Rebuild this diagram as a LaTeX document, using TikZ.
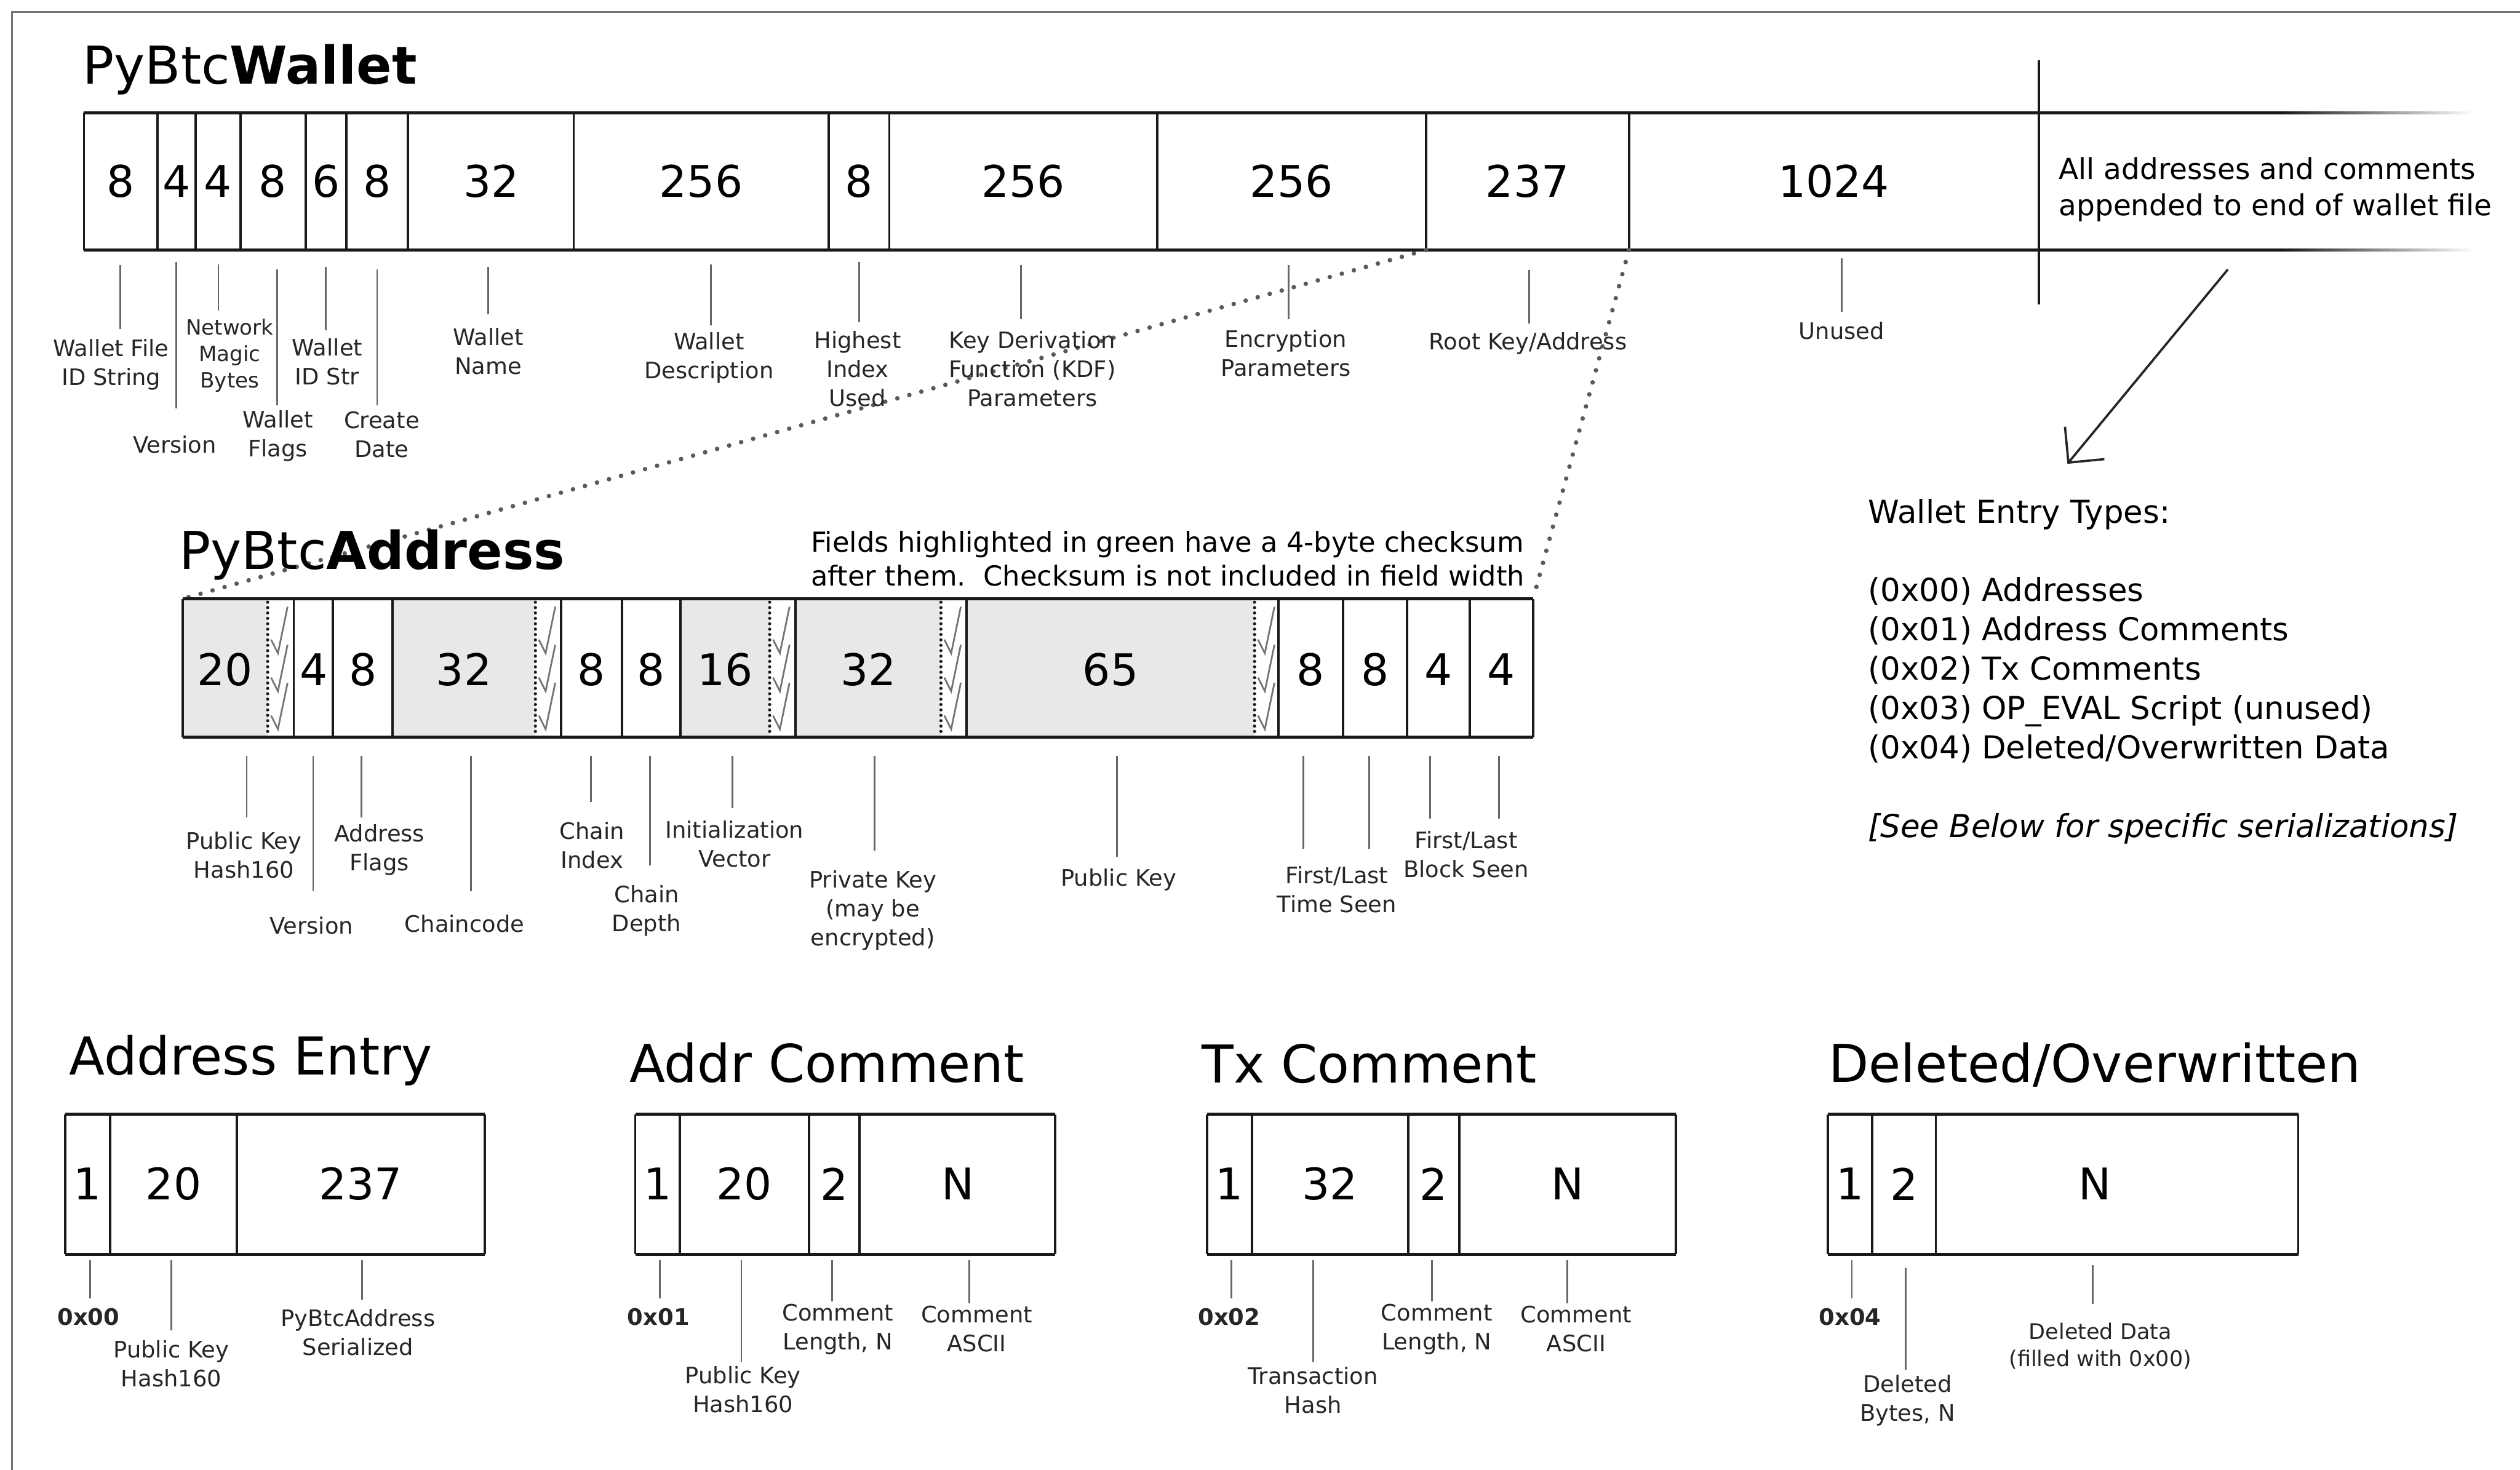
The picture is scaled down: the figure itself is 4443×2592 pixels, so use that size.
\documentclass[tikz,border=0pt]{standalone}
\usepackage{fontspec}
\setmainfont{DejaVu Sans}
\usetikzlibrary{arrows.meta}
\newcommand\mytick[3]{\draw[tick] (#1,#2) -- (#1,#3);}
\newcommand\mychks[1]{\foreach \k in {0,1,2}{\draw[chk] ({#1+6},{1128+\k*67}) -- ({#1+18},{1152+\k*67}) -- ({#1+35},{1070+\k*67});}}
\begin{document}
\begin{tikzpicture}[x=0.1pt,y=-0.1pt,
 lbl/.style={font=\fontsize{4}{5.1}\selectfont, align=center, inner sep=0pt, text=black!85},
 blbl/.style={font=\fontsize{4}{5.1}\selectfont\bfseries, inner sep=0pt, text=black!85},
 num/.style={font=\fontsize{7.7}{9}\selectfont, inner sep=0pt},
 ttl/.style={font=\fontsize{9.2}{11}\selectfont, anchor=base west, inner sep=0pt},
 hbar/.style={line width=0.6pt, black!90},
 vbar/.style={line width=0.42pt, black!90},
 tick/.style={line width=0.3pt, black!60},
 dots/.style={line width=0.8pt, black!65, dash pattern=on 0pt off 2.2pt, line cap=round},
 csdots/.style={line width=0.55pt, black!90, dash pattern=on 0pt off 0.95pt, line cap=round},
 chk/.style={line width=0.3pt, black!55, line join=miter},
 txt/.style={inner sep=0pt, align=left, anchor=west}]
\useasboundingbox (0,0) rectangle (4443,2592);
\fill[white] (0,0) rectangle (4443,2592);
% frame
\draw[line width=0.4pt, black!55] (21,2592) -- (21,21) -- (4443,21);

% ---------- PyBtcWallet ----------
\node[ttl] (wtitle) at (144,148) {PyBtc\textbf{Wallet}};
\draw[hbar] (148,199) -- (4030,199);
\draw[hbar] (148,441) -- (4030,441);
\foreach \i in {0,...,31}{\pgfmathsetmacro\op{1-(\i+1)/33}
  \draw[hbar, draw opacity=\op] ({4030+\i*10.2},199) -- ({4030+(\i+1)*10.2},199);
  \draw[hbar, draw opacity=\op] ({4030+\i*10.2},441) -- ({4030+(\i+1)*10.2},441);}
\foreach \x in {148,277.5,344.5,424,539,610.5,719.6,1011.5,1461,1568,2040,2514,2872}
  {\draw[vbar] (\x,199) -- (\x,441);}
\draw[vbar] (3595,106) -- (3595,537);
\foreach \x/\t [count=\n] in {213/8,311/4,384/4,481/8,575/6,665/8,866/32,1236/256,1514/8,1804/256,2277/256,2693/237,3233/1024}
  {\node[num] (wn\n) at (\x,320) {\t};}
\node[txt, font=\fontsize{5.1}{6.4}\selectfont] (wall) at (3628,334) {All addresses and comments\\appended to end of wallet file};

% dotted connectors to PyBtcAddress
\coordinate (w237a) at (2514,441);
\coordinate (w237b) at (2872,441);
\coordinate (atl) at (322,1056);
\coordinate (atr) at (2703,1056);
\draw[dots] (w237a) -- (atl);
\draw[dots] (w237b) -- (atr);

% wallet labels
\node[lbl] (lwf) at (196,643) {Wallet File\\ID String}; \mytick{212}{468}{580}
\node[lbl] (lver) at (308,784) {Version}; \mytick{311}{462}{720}
\node[lbl, font=\fontsize{3.7}{4.7}\selectfont] (lnet) at (405,627) {Network\\Magic\\Bytes}; \mytick{385}{466}{548}
\node[lbl] (lfl) at (490,769) {Wallet\\Flags}; \mytick{489}{475}{715}
\node[lbl] (lid) at (577,638) {Wallet\\ID Str}; \mytick{574}{471}{583}
\node[lbl] (lcd) at (673,766) {Create\\Date}; \mytick{665}{475}{715}
\node[lbl] (lwn) at (861,620) {Wallet\\Name}; \mytick{861}{471}{554}
\node[lbl] (lwd) at (1250,631) {Wallet\\Description}; \mytick{1253}{466}{574}
\node[lbl] (lhi) at (1512,650) {Highest\\Index\\Used}; \mytick{1515}{462}{568}
\node[lbl] (lkdf) at (1820,650) {Key Derivation\\Function (KDF)\\Parameters}; \mytick{1800}{468}{563}
\node[lbl] (lenc) at (2267,623) {Encryption\\Parameters}; \mytick{2272}{468}{563}
\node[lbl] (lroot) at (2694,606) {Root Key/Address}; \mytick{2696}{476}{571}
\node[lbl] (lun) at (3247,583) {Unused}; \mytick{3247}{456}{550}

% arrow
\coordinate (arrA) at (3928,475);
\coordinate (arrB) at (3645,818);
\draw[line width=0.4pt, black!85, -{Straight Barb[length=4.5pt,width=9pt,line width=0.4pt]}] (arrA) -- (arrB);

% wallet entry types
\node[txt, font=\fontsize{5.57}{6.93}\selectfont] (wet) at (3292,1184) {Wallet Entry Types:\\[6.93pt]
(0x00) Addresses\\(0x01) Address Comments\\(0x02) Tx Comments\\(0x03) OP\_EVAL Script (unused)\\(0x04) Deleted/Overwritten Data\\[6.93pt]
\textit{[See Below for specific serializations]}};

% ---------- PyBtcAddress ----------
\node[ttl] (atitle) at (314,1004) {PyBtc\textbf{Address}};
\node[txt, font=\fontsize{4.86}{6}\selectfont] (afld) at (1428,985) {Fields highlighted in green have a 4-byte checksum\\after them.\ \ Checksum is not included in field width};
\foreach \a/\b in {322/472,692/944,1200/1357,1403/1659,1704/2212}
  {\fill[black!9] (\a,1056) rectangle (\b,1300);}
\mychks{472}\mychks{944}\mychks{1357}\mychks{1659}\mychks{2212}
\foreach \x in {472,944,1357,1659,2212}{\draw[csdots] (\x,1062) -- (\x,1296);}
\draw[hbar] (322,1056) -- (2703,1056);
\draw[hbar] (322,1300) -- (2703,1300);
\foreach \x in {322,518,587,692,989,1097,1200,1403,1704,2254,2368,2481,2591,2703}
  {\draw[vbar] (\x,1056) -- (\x,1300);}
\foreach \x/\t [count=\n] in {397/20,553/4,640/8,818/32,1043/8,1148/8,1278/16,1531/32,1958/65,2311/8,2424/8,2536/4,2647/4}
  {\node[num] (an\n) at (\x,1181) {\t};}

% address labels
\node[lbl] (lpkh) at (430,1508) {Public Key\\Hash160}; \mytick{435}{1333}{1442}
\node[lbl] (laver) at (549,1632) {Version}; \mytick{552}{1333}{1572}
\node[lbl] (lafl) at (669,1499) {Address\\Flags}; \mytick{637}{1333}{1442}
\node[lbl] (lcc) at (819,1629) {Chaincode}; \mytick{830}{1333}{1572}
\node[lbl] (lci) at (1044,1491) {Chain\\Index}; \mytick{1042}{1333}{1414}
\node[lbl] (lcdp) at (1140,1606) {Chain\\Depth}; \mytick{1146}{1333}{1526}
\node[lbl] (liv) at (1295,1488) {Initialization\\Vector}; \mytick{1291}{1333}{1425}
\node[lbl] (lpk) at (1539,1606) {Private Key\\(may be\\encrypted)}; \mytick{1542}{1333}{1500}
\node[lbl] (lpub) at (1972,1552) {Public Key}; \mytick{1969}{1333}{1511}
\node[lbl] (lts) at (2357,1569) {First/Last\\Time Seen}; \mytick{2298}{1333}{1497}\mytick{2414}{1333}{1497}
\node[lbl] (lbs) at (2585,1507) {First/Last\\Block Seen}; \mytick{2521}{1333}{1444}\mytick{2643}{1333}{1444}

% ---------- bottom entries ----------
% Address Entry
\node[ttl] (t1) at (120,1895) {Address Entry};
\draw[hbar] (115,1965) -- (855,1965); \draw[hbar] (115,2212) -- (855,2212);
\foreach \x in {115,194,418,855}{\draw[vbar] (\x,1965) -- (\x,2212);}
\node[num] (e1a) at (154.5,2088) {1}; \node[num] (e1b) at (306,2088) {20}; \node[num] (e1c) at (636,2088) {237};
\node[blbl] (l1a) at (156,2322) {0x00}; \mytick{159}{2223}{2290}
\node[lbl] (l1b) at (302,2405) {Public Key\\Hash160}; \mytick{302}{2223}{2346}
\node[lbl] (l1c) at (631,2350) {PyBtcAddress\\Serialized}; \mytick{638}{2223}{2292}

% Addr Comment
\node[ttl] (t2) at (1108,1908) {Addr Comment};
\draw[hbar] (1120,1965) -- (1860,1965); \draw[hbar] (1120,2212) -- (1860,2212);
\foreach \x in {1120,1199,1426,1515,1860}{\draw[vbar] (\x,1965) -- (\x,2212);}
\node[num] (e2a) at (1159.5,2088) {1}; \node[num] (e2b) at (1312.5,2088) {20}; \node[num] (e2c) at (1470.5,2088) {2}; \node[num] (e2d) at (1689,2088) {N};
\node[blbl] (l2a) at (1161,2322) {0x01}; \mytick{1163}{2223}{2290}
\node[lbl] (l2b) at (1310,2451) {Public Key\\Hash160}; \mytick{1307}{2223}{2402}
\node[lbl] (l2c) at (1477,2344) {Comment\\Length, N}; \mytick{1467}{2223}{2295}
\node[lbl] (l2d) at (1722,2344) {Comment\\ASCII}; \mytick{1709}{2223}{2298}

% Tx Comment
\node[ttl] (t3) at (2117,1910) {Tx Comment};
\draw[hbar] (2128,1965) -- (2955,1965); \draw[hbar] (2128,2212) -- (2955,2212);
\foreach \x in {2128,2207,2483,2573,2955}{\draw[vbar] (\x,1965) -- (\x,2212);}
\node[num] (e3a) at (2167.5,2088) {1}; \node[num] (e3b) at (2345,2088) {32}; \node[num] (e3c) at (2528,2088) {2}; \node[num] (e3d) at (2764,2088) {N};
\node[blbl] (l3a) at (2167,2322) {0x02}; \mytick{2171}{2223}{2290}
\node[lbl] (l3b) at (2315,2452) {Transaction\\Hash}; \mytick{2315}{2223}{2402}
\node[lbl] (l3c) at (2533,2344) {Comment\\Length, N}; \mytick{2525}{2223}{2295}
\node[lbl] (l3d) at (2779,2344) {Comment\\ASCII}; \mytick{2763}{2223}{2298}

% Deleted/Overwritten
\node[ttl] (t4) at (3222,1908) {Deleted/Overwritten};
\draw[hbar] (3223,1965) -- (4052,1965); \draw[hbar] (3223,2212) -- (4052,2212);
\foreach \x in {3223,3301,3413,4052}{\draw[vbar] (\x,1965) -- (\x,2212);}
\node[num] (e4a) at (3262,2088) {1}; \node[num] (e4b) at (3357,2088) {2}; \node[num] (e4c) at (3694,2088) {N};
\node[blbl] (l4a) at (3262,2322) {0x04}; \mytick{3265}{2223}{2290}
\node[lbl] (l4b) at (3363,2470) {Deleted\\Bytes, N}; \mytick{3360}{2236}{2416}
\node[lbl, font=\fontsize{3.8}{4.7}\selectfont] (l4c) at (3703,2374) {Deleted Data\\(filled with 0x00)}; \mytick{3690}{2231}{2300}
\end{tikzpicture}
\end{document}
